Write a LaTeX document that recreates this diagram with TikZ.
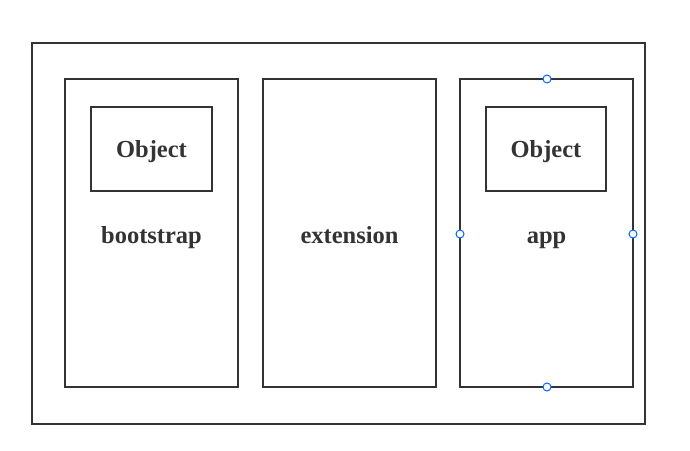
\documentclass[tikz,border=0pt]{standalone}
\usepackage{fontspec}
\setmainfont{Liberation Serif}
\begin{document}
\begin{tikzpicture}[x=1pt,y=-1pt,
  box/.style={draw=black!80, line width=1.8pt, fill=none},
  lbl/.style={font=\fontsize{24.5}{26}\selectfont\bfseries, text=black!80, anchor=base, inner sep=0pt},
  handle/.style={circle, draw=blue!60!cyan, fill=white, line width=1pt, minimum size=8pt, inner sep=0pt}]
\useasboundingbox (0,0) rectangle (690,450);
\draw[box] (32,43) rectangle (645,424);
\draw[box] (65,79) rectangle (238,387);
\draw[box] (263,79) rectangle (436,387);
\draw[box] (460,79) rectangle (633,387);
\node[box, minimum width=121pt, minimum height=84pt] (o1) at (151.5,149) {};
\node[box, minimum width=120pt, minimum height=84pt] (o2) at (546,149) {};
\node[lbl] (t1) at (151.5,157.5) {Object};
\node[lbl] (t2) at (546,157.5) {Object};
\node[lbl] (b) at (151.5,243) {bootstrap};
\node[lbl] (e) at (349.5,243) {extension};
\node[lbl] (a) at (546.5,243) {app};
\node[handle] (h1) at (547,79) {};
\node[handle] (h2) at (460,234) {};
\node[handle] (h3) at (633,234) {};
\node[handle] (h4) at (547,387) {};
\end{tikzpicture}
\end{document}
